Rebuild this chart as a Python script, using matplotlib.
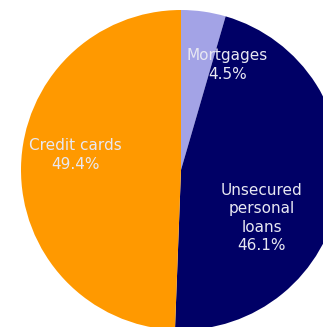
import matplotlib
matplotlib.use("Agg")
import matplotlib.pyplot as plt

categories = ["Mortgages", "Unsecured\npersonal\nloans", "Credit cards"]
shares = [4.5, 46.1, 49.4]
colors = ["#A3A3E6", "#000066", "#FF9900"]

# label anchor points, in units of the pie radius
label_pos = [(0.29, 0.655), (0.505, -0.30), (-0.66, 0.095)]

W, H = 323, 327
cx, cy, R = 181, 170, 160

fig = plt.figure(figsize=(W / 100, H / 100), dpi=100)
ax = fig.add_axes([0, 0, 1, 1])
ax.pie(shares, colors=colors, startangle=90, counterclock=False,
       radius=1.0, wedgeprops=dict(linewidth=0))
ax.set_xlim(-cx / R, (W - cx) / R)
ax.set_ylim(-(H - cy) / R, cy / R)
ax.set_aspect("auto")
ax.axis("off")

for name, val, (x, y) in zip(categories, shares, label_pos):
    ax.text(x, y, f"{name}\n{val:.1f}%", ha="center", va="center",
            color="#E8E8F2", fontsize=11, family="DejaVu Sans",
            linespacing=1.3)

fig.savefig("out.png", dpi=100)
